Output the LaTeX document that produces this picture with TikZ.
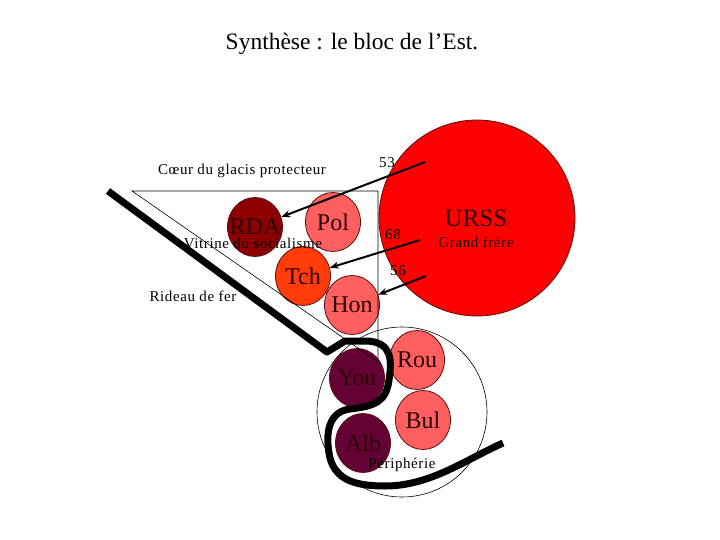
\documentclass[tikz,border=0pt]{standalone}
\usepackage{fontspec}
\setmainfont{Liberation Serif}
\newfontfamily\spacedfont[LetterSpace=4]{Liberation Serif}
\usepackage{tikz}
\usetikzlibrary{shapes.geometric,arrows.meta}
\usepackage{xcolor}
\definecolor{urss}{HTML}{FF0000}
\definecolor{coeur}{HTML}{8E0000}
\definecolor{tchred}{HTML}{FF3C0A}
\definecolor{satellite}{HTML}{FF5F5F}
\definecolor{balkan}{HTML}{650235}
\definecolor{rim}{HTML}{5A1010}
\definecolor{textdark}{HTML}{2A0000}

\tikzset{
  country/.style={ellipse,draw=rim,line width=0.8pt,minimum width=55pt,minimum height=59pt,
    inner xsep=-14pt,inner ysep=-14pt,text=textdark,font=\fontsize{24}{24}\selectfont},
  legend/.style={font=\spacedfont\fontsize{15}{15}\selectfont,inner sep=1pt},
  link/.style={line width=2pt,-{Stealth[length=9pt,width=7pt]}},
  curtain/.style={line width=7pt,line join=round}
}

\begin{document}
\begin{tikzpicture}[x=1pt,y=-1pt]
    \useasboundingbox (0,0) rectangle (720,540);

    % Title
    \node[font=\fontsize{23.5}{23.5}\selectfont] (title) at (352,44) {Synthèse : le bloc de l’Est.};

    % Peripherie ring
    \draw[line width=0.6pt] (402,412) circle (85);

    % Big brother
    \node[circle,fill=urss,draw=rim,line width=0.8pt,minimum size=196pt] (urss) at (477,218) {};
    \node[text=textdark,font=\fontsize{25}{25}\selectfont] (urssname) at (476,218) {URSS};
    \node[legend,text=textdark] (grand) at (476,242) {Grand frère};

    % Countries
    \node[country,fill=coeur] (rda) at (255,227) {RDA};
    \node[country,fill=satellite] (pol) at (333,222) {Pol};
    \node[country,fill=tchred] (tch) at (303,276) {Tch};
    \node[country,fill=satellite] (hon) at (352,305) {Hon};
    \node[country,fill=balkan] (you) at (357,378) {You};
    \node[country,fill=satellite] (rou) at (417,360) {Rou};
    \node[country,fill=satellite] (bul) at (423,420) {Bul};
    \node[country,fill=balkan] (alb) at (363,443) {Alb};

    % Glacis triangle
    \draw[line width=0.6pt] (132,191) -- (378,191) -- (378,362) -- cycle;

    % Iron curtain
    \draw[curtain] (108,191) -- (327,352) -- (345,341) -- (368,341)
      .. controls (392,343) and (392,360) .. (389,380)
      .. controls (386,402) and (375,406) .. (350,409)
      .. controls (325,412) and (326,440) .. (330,458)
      .. controls (336,480) and (355,486) .. (385,486)
      .. controls (430,486) and (465,460) .. (503,443);

    % Arrows from URSS
    \coordinate (s53) at (425,162);
    \coordinate (s68) at (420,240);
    \coordinate (s56) at (426,276);
    \draw[link] (s53) -- (rda);
    \draw[link] (s68) -- (tch);
    \draw[link] (s56) -- (hon);
    \node[legend] (n53) at (387,163) {53};
    \node[legend] (n68) at (393,235) {68};
    \node[legend] (n56) at (398,271) {56};

    % Labels
    \node[legend] (coeurlbl) at (242,171) {Cœur du glacis protecteur};
    \node[legend] (vitrine) at (253,243) {Vitrine du socialisme};
    \node[legend] (rideau) at (193,296) {Rideau de fer};
    \node[legend] (peri) at (402,465) {Périphérie};
  \end{tikzpicture}
\end{document}
